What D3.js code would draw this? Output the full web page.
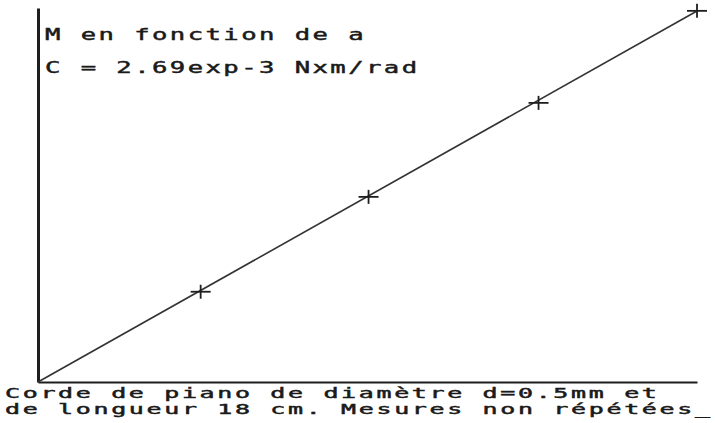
<!DOCTYPE html>
<html>
<head>
<meta charset="utf-8">
<script src="https://cdn.jsdelivr.net/npm/d3@7"></script>
<style>
  html, body { margin: 0; padding: 0; background: #fff; }
  svg { display: block; }
</style>
</head>
<body>
<svg id="chart" width="715" height="423"></svg>
<script>
// ---- data ----
const angleA = [1.55, 3.15, 4.77, 6.28];          // a (rad)
const momentM = [0.00411, 0.00843, 0.01271, 0.0169]; // M (N·m)
const slopeC = 2.69e-3;                           // C (N·m/rad)
const yAxisMax = 0.01703;                         // top of vertical axis
const titleLines = ["M en fonction de a", "C = 2.69exp-3 Nxm/rad"];
const captionLines = ["Corde de piano de diamètre d=0.5mm et", "de longueur 18 cm. Mesures non répétées_"];

// ---- layout ----
const svg = d3.select("#chart");
const x0 = 38, x1 = 697, yBottom = 382, yTop = 8;

const x = d3.scaleLinear().domain([0, d3.max(angleA)]).range([x0, x1]);
const y = d3.scaleLinear().domain([0, yAxisMax]).range([yBottom, yTop]);

const ink = "#1e1e1e";

// axes (domain lines only)
const xAxis = svg.append("g")
  .attr("transform", `translate(0,${yBottom})`)
  .call(d3.axisBottom(x).tickValues([]).tickSizeOuter(0));
xAxis.select(".domain").attr("stroke", ink).attr("stroke-width", 2.2);

const yAxis = svg.append("g")
  .attr("transform", `translate(${x0},0)`)
  .call(d3.axisLeft(y).tickValues([]).tickSizeOuter(0));
yAxis.select(".domain").attr("stroke", ink).attr("stroke-width", 3);

// fitted line M = C * a
const fit = [0, d3.max(angleA)].map(a => [a, slopeC * a]);
svg.append("path")
  .datum(fit)
  .attr("fill", "none")
  .attr("stroke", "#333")
  .attr("stroke-width", 1.6)
  .attr("d", d3.line().x(d => x(d[0])).y(d => y(d[1])));

// measured points as "+" crosses
const pts = angleA.map((a, i) => ({ a, m: momentM[i] }));
const cross = svg.append("g").attr("stroke", ink).attr("stroke-width", 1.8);
cross.selectAll("line.h").data(pts).join("line")
  .attr("class", "h")
  .attr("x1", d => x(d.a) - 10).attr("x2", d => x(d.a) + 10)
  .attr("y1", d => y(d.m)).attr("y2", d => y(d.m));
cross.selectAll("line.v").data(pts).join("line")
  .attr("class", "v")
  .attr("x1", d => x(d.a)).attr("x2", d => x(d.a))
  .attr("y1", d => y(d.m) - 7).attr("y2", d => y(d.m) + 7);

// printer-style monospace text
function printLine(str, left, baseline, fs, sx, cell) {
  const adv = 0.6021 * fs;
  const ls = cell / sx - adv;
  svg.append("text")
    .attr("transform", `translate(${left},${baseline}) scale(${sx},1)`)
    .attr("font-family", "DejaVu Sans Mono, Liberation Mono, monospace")
    .attr("font-size", fs)
    .attr("letter-spacing", ls)
    .attr("fill", "#1a1a1a")
    .attr("stroke", "#1a1a1a")
    .attr("stroke-width", 0.45)
    .text(str);
}
printLine(titleLines[0], 45, 40, 16, 1.6, 17.85);
printLine(titleLines[1], 45, 73, 16, 1.6, 17.85);
printLine(captionLines[0], 5, 398, 13.5, 1.85, 17.7);
printLine(captionLines[1], 5, 414, 13.5, 1.85, 17.7);
</script>
</body>
</html>
